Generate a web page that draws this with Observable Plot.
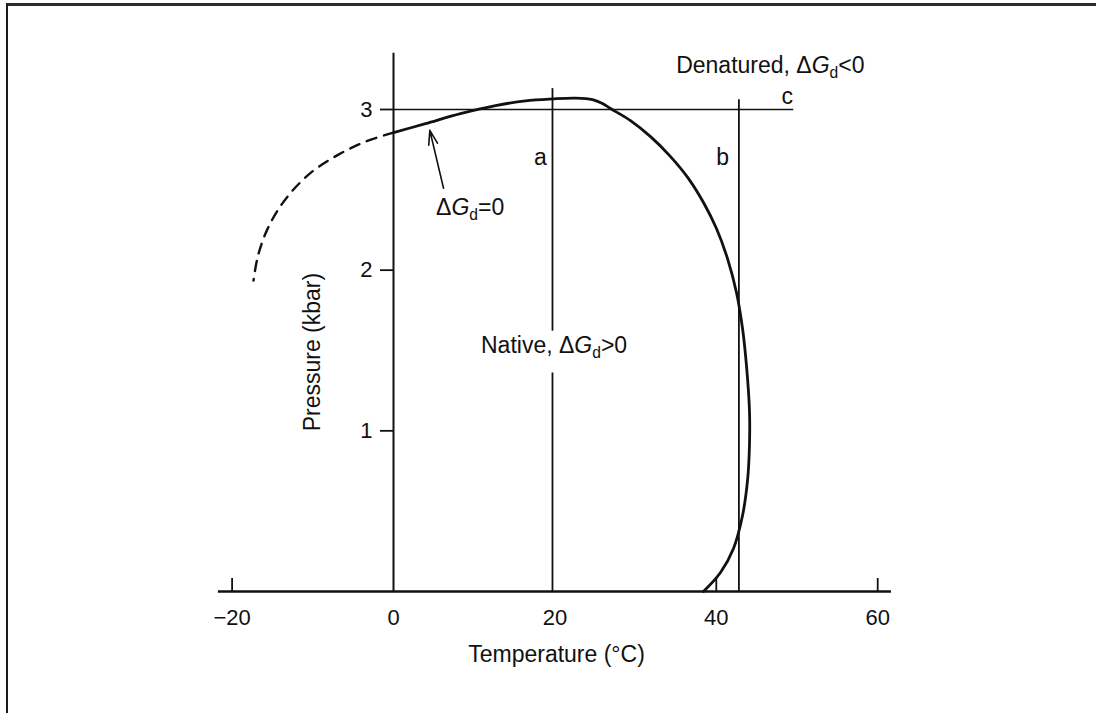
<!DOCTYPE html>
<html>
<head>
<meta charset="utf-8">
<script src="https://cdn.jsdelivr.net/npm/d3@7"></script>
<script src="https://cdn.jsdelivr.net/npm/@observablehq/plot@0.6"></script>
<style>
  html, body { margin: 0; padding: 0; background: #fff; }
  #page { position: relative; width: 1096px; height: 713px; overflow: hidden; }
  #border { position: absolute; left: 6px; top: 3px; width: 1200px; height: 800px;
            border-top: 3px solid #2b2b2b; border-left: 2px solid #1a1a1a; }
  #chart { position: absolute; left: 0; top: 0; }
</style>
</head>
<body>
<div id="page"><div id="border"></div><div id="chart"></div></div>
<script>
// Pressure–temperature phase diagram of protein denaturation.
const W = 1096, H = 713;
const mTop = 109, mBottom = 122, mLeft = 393, mRight = 177;
const innerH = H - mTop - mBottom;

// ΔGd = 0 boundary, measured part (°C, kbar)
const boundaryT = [0, 3.97, 8.30, 12.64, 16.36, 19.70, 22.55, 24.66, 25.90, 26.89, 29.37, 31.85, 34.33, 36.56, 38.41, 40.02, 41.39, 42.50, 43.25, 43.74, 44.11, 44.11, 43.87, 43.25, 42.13, 40.52, 38.41];
const boundaryP = [2.856, 2.912, 2.974, 3.024, 3.054, 3.066, 3.071, 3.062, 3.037, 3.006, 2.931, 2.831, 2.707, 2.570, 2.421, 2.259, 2.072, 1.861, 1.637, 1.406, 1.126, 0.909, 0.691, 0.473, 0.268, 0.118, 0.0];

// extrapolated part of the boundary below 0 °C
const extrapT = [0, -3.47, -6.82, -9.91, -12.39, -14.37, -15.86, -16.85, -17.35];
const extrapP = [2.856, 2.800, 2.719, 2.620, 2.502, 2.371, 2.228, 2.078, 1.935];

// experimental paths a (isothermal), b (isothermal), c (isobaric)
const pathA_T = 19.7, pathA_lower = [0, 1.36], pathA_upper = [1.62, 3.13];
const pathB_T = 42.8, pathB_P = [0, 3.06];
const pathC_P = 3.0, pathC_T = [0, 49.6];

// axes
const xTickValues = [-20, 0, 20, 40, 60];
const xTickMarks = [-20, 40, 60];
const yTickValues = [1, 2, 3];
const xAxisSpan = [-21.7, 61.7];
const yAxisSpan = [0, 3.35];

// annotations
const labelText = ["a", "b", "c", "Denatured, ΔGd<0", "ΔGd=0", "Native, ΔGd>0"];
const labelT =    [18.2, 40.8, 48.8, 46.7, 9.5, 19.9];
const labelP =    [2.70, 2.70, 3.08, 3.273, 2.39, 1.53];
const arrowFrom = [6.2, 2.51], arrowTo = [4.5, 2.87];

const boundary = boundaryT.map((t, i) => ({t, p: boundaryP[i]}));
const extrap = extrapT.map((t, i) => ({t, p: extrapP[i]}));
const labels = labelText.map((s, i) => ({s, t: labelT[i], p: labelP[i]}));
const vSegs = [
  {t: pathA_T, p1: pathA_lower[0], p2: pathA_lower[1]},
  {t: pathA_T, p1: pathA_upper[0], p2: pathA_upper[1]},
  {t: pathB_T, p1: pathB_P[0], p2: pathB_P[1]}
];
const ink = "#111";

const chart = Plot.plot({
  width: W, height: H,
  marginTop: mTop, marginBottom: mBottom, marginLeft: mLeft, marginRight: mRight,
  x: {domain: [-20, 60], range: [231.6, 877.2]},
  y: {domain: [0, 3]},
  style: {fontFamily: "'Liberation Sans', Arial, Helvetica, sans-serif", fontSize: "22px",
          color: ink, background: "transparent", overflow: "visible"},
  marks: [
    // axis lines
    Plot.ruleY([0], {x1: xAxisSpan[0], x2: xAxisSpan[1], stroke: ink, strokeWidth: 2.3}),
    Plot.ruleX([0], {y1: yAxisSpan[0], y2: yAxisSpan[1], stroke: ink, strokeWidth: 2}),
    Plot.tickX(xTickMarks, {x: d => d, insetTop: innerH - 13, stroke: ink, strokeWidth: 1.8}),
    Plot.axisX({ticks: xTickValues, tickSize: 0, tickPadding: 18, fontSize: 22, label: null}),
    Plot.axisY({ticks: yTickValues, tickFormat: d => String(d), tickSize: 13, tickPadding: 8,
                fontSize: 22, label: null, stroke: ink, strokeWidth: 1.8}),
    Plot.text(["Temperature (°C)"], {x: 20.2, frameAnchor: "bottom", dy: 70, fontSize: 23}),
    Plot.text(["Pressure (kbar)"], {x: -10, y: 1.49, rotate: -90, fontSize: 23}),
    // paths a, b, c
    Plot.ruleX(vSegs, {x: "t", y1: "p1", y2: "p2", stroke: ink, strokeWidth: 1.8}),
    Plot.ruleY([pathC_P], {y: d => d, x1: pathC_T[0], x2: pathC_T[1], stroke: ink, strokeWidth: 1.7}),
    // ΔGd = 0 boundary
    Plot.line(extrap, {x: "t", y: "p", curve: "catmull-rom", stroke: ink, strokeWidth: 2.4,
                       strokeDasharray: "10 8"}),
    Plot.line(boundary, {x: "t", y: "p", curve: "catmull-rom", stroke: ink, strokeWidth: 2.8}),
    Plot.arrow([0], {x1: arrowFrom[0], y1: arrowFrom[1], x2: arrowTo[0], y2: arrowTo[1],
                     stroke: ink, strokeWidth: 1.6, headLength: 14, headAngle: 35}),
    Plot.text(labels, {x: "t", y: "p", text: "s", fontSize: 23, fill: ink})
  ]
});

// subscript d and italic G in ΔGd
d3.select(chart).selectAll("text").each(function() {
  const s = this.textContent;
  const k = s.indexOf("ΔGd");
  if (k < 0) return;
  const el = d3.select(this);
  el.text(null);
  el.append("tspan").text(s.slice(0, k) + "Δ");
  el.append("tspan").attr("font-style", "italic").text("G");
  el.append("tspan").attr("font-size", "0.68em").attr("dy", 5).text("d");
  el.append("tspan").attr("dy", -5).text(s.slice(k + 3));
});

document.getElementById("chart").appendChild(chart);
</script>
</body>
</html>
